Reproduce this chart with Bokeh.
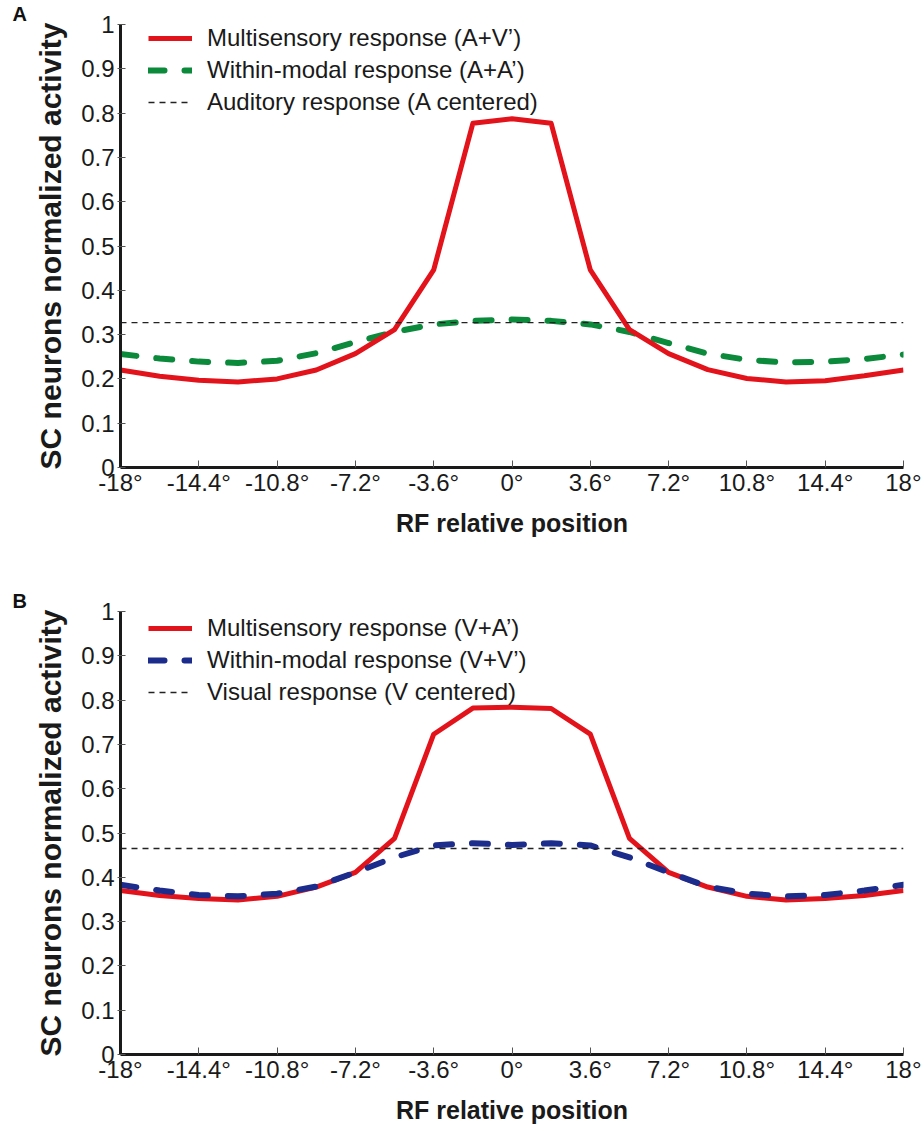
from bokeh.plotting import figure
from bokeh.layouts import column
from bokeh.models import Range1d, FixedTicker, Legend, LegendItem
from bokeh.embed import file_html
from bokeh.resources import INLINE

# RF relative position (degrees), sampled every 1.8 deg
positions = [-18.0, -16.2, -14.4, -12.6, -10.8, -9.0, -7.2, -5.4, -3.6, -1.8, 0.0,
             1.8, 3.6, 5.4, 7.2, 9.0, 10.8, 12.6, 14.4, 16.2, 18.0]

# Panel A: auditory stimulus in the RF centre
a_multisensory = [0.220, 0.206, 0.197, 0.193, 0.200, 0.220, 0.257, 0.311, 0.446, 0.777, 0.787,
                  0.777, 0.446, 0.311, 0.257, 0.221, 0.201, 0.193, 0.196, 0.207, 0.220]
a_within = [0.256, 0.246, 0.239, 0.236, 0.241, 0.258, 0.283, 0.306, 0.323, 0.331, 0.334,
            0.331, 0.323, 0.306, 0.281, 0.257, 0.243, 0.237, 0.239, 0.245, 0.255]
a_unisensory = 0.327

# Panel B: visual stimulus in the RF centre
b_multisensory = [0.370, 0.359, 0.352, 0.349, 0.357, 0.378, 0.411, 0.488, 0.723, 0.782, 0.784,
                  0.781, 0.723, 0.488, 0.411, 0.378, 0.357, 0.349, 0.352, 0.359, 0.370]
b_within = [0.383, 0.370, 0.360, 0.357, 0.363, 0.379, 0.411, 0.445, 0.472, 0.477, 0.473,
            0.477, 0.472, 0.445, 0.411, 0.379, 0.363, 0.357, 0.360, 0.370, 0.383]
b_unisensory = 0.465

x_ticks = [-18, -14.4, -10.8, -7.2, -3.6, 0, 3.6, 7.2, 10.8, 14.4, 18]
x_tick_labels = ["-18°", "-14.4°", "-10.8°", "-7.2°", "-3.6°", "0°",
                 "3.6°", "7.2°", "10.8°", "14.4°", "18°"]
y_ticks = [0, 0.1, 0.2, 0.3, 0.4, 0.5, 0.6, 0.7, 0.8, 0.9, 1]
y_tick_labels = ["0", "0.1", "0.2", "0.3", "0.4", "0.5", "0.6", "0.7", "0.8", "0.9", "1"]

RED = "#e3131b"
GREEN = "#0b8a3b"
BLUE = "#1b2c8c"

FONT = "Liberation Sans"
PANEL_HEIGHT = 563


def panel(letter, multi, within, uni, within_color, labels,
          border_top, border_bottom, legend_y, red_on_top):
    p = figure(width=921, height=PANEL_HEIGHT, output_backend="svg", toolbar_location=None,
               x_range=Range1d(-18, 18), y_range=Range1d(0, 1),
               min_border_left=120, min_border_right=18,
               min_border_top=border_top, min_border_bottom=border_bottom)
    p.outline_line_color = None
    p.xgrid.visible = False
    p.ygrid.visible = False
    p.background_fill_color = "white"
    p.border_fill_color = "white"

    # panel letter, pushed out to the left edge of the canvas
    p.title.text = letter
    p.title.align = "left"
    p.title.offset = -108
    p.title.standoff = 0
    p.title.text_font = FONT
    p.title.text_font_style = "bold"
    p.title.text_font_size = "20px"
    p.title.text_color = "#111111"

    for ax in (p.xaxis[0], p.yaxis[0]):
        ax.axis_line_width = 3
        ax.axis_line_color = "#1a1a1a"
        ax.major_tick_line_color = "#555555"
        ax.major_tick_line_width = 1
        ax.minor_tick_line_color = None
        ax.major_label_text_font = FONT
        ax.major_label_text_color = "#1a1a1a"
        ax.axis_label_text_color = "#1a1a1a"
        ax.axis_label_text_font = FONT
        ax.axis_label_text_font_style = "bold"

    xa = p.xaxis[0]
    xa.ticker = FixedTicker(ticks=x_ticks)
    xa.major_label_overrides = dict(zip(x_ticks, x_tick_labels))
    xa.major_tick_in = 7
    xa.major_tick_out = 0
    xa.major_label_standoff = 1
    xa.major_label_text_font_size = "24px"
    xa.axis_label = "RF relative position"
    xa.axis_label_text_font_size = "25px"
    xa.axis_label_standoff = 10

    ya = p.yaxis[0]
    ya.ticker = FixedTicker(ticks=y_ticks)
    ya.major_label_overrides = dict(zip(y_ticks, y_tick_labels))
    ya.major_tick_in = 5
    ya.major_tick_out = 3
    ya.major_label_standoff = 3
    ya.major_label_text_font_size = "24px"
    ya.axis_label = "SC neurons normalized activity"
    ya.axis_label_text_font_size = "30px"
    ya.axis_label_standoff = 11

    def draw_multi():
        return p.line(positions, multi, line_color=RED, line_width=5, line_join="round")

    def draw_within():
        return p.line(positions, within, line_color=within_color, line_width=6,
                      line_dash="16 20", line_cap="round")

    if red_on_top:
        r_within = draw_within()
        r_multi = draw_multi()
    else:
        r_multi = draw_multi()
        r_within = draw_within()
    r_uni = p.line([positions[0], positions[-1]], [uni, uni], line_color="#222222",
                   line_width=1.4, line_dash="6 5")

    legend = Legend(items=[LegendItem(label=labels[0], renderers=[r_multi]),
                           LegendItem(label=labels[1], renderers=[r_within]),
                           LegendItem(label=labels[2], renderers=[r_uni])],
                    location=(28, legend_y), padding=0, margin=0,
                    spacing=4, glyph_width=44, glyph_height=24, label_height=24,
                    label_standoff=15, label_text_font=FONT, label_text_font_size="24px",
                    label_text_color="#1a1a1a",
                    border_line_alpha=0, background_fill_alpha=0)
    p.add_layout(legend, "center")
    return p


pa = panel("A", a_multisensory, a_within, a_unisensory, GREEN,
           ["Multisensory response (A+V’)", "Within-modal response (A+A’)",
            "Auditory response (A centered)"], 21, 96, 351, True)
pb = panel("B", b_multisensory, b_within, b_unisensory, BLUE,
           ["Multisensory response (V+A’)", "Within-modal response (V+V’)",
            "Visual response (V centered)"], 48, 69, 348, False)

layout = column(pa, pb, spacing=0)
open("out.html", "w").write(file_html(layout, INLINE))
